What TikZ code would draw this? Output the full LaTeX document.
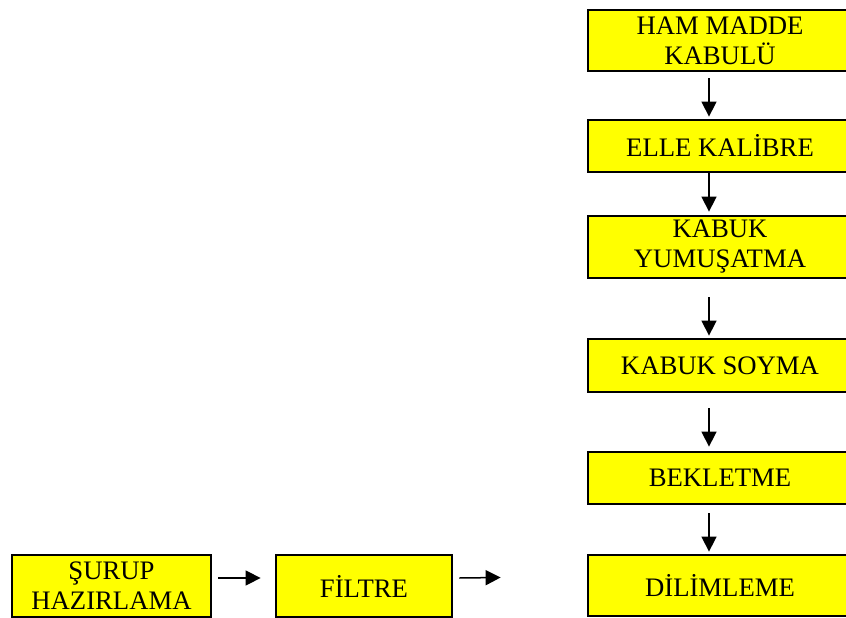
\documentclass[tikz,border=0pt]{standalone}
\usepackage{fontspec}
\setmainfont{Liberation Serif}
\usetikzlibrary{arrows.meta}
\definecolor{procyellow}{RGB}{255,255,0}
\begin{document}
\begin{tikzpicture}[x=1pt,y=-1pt,
	proc/.style={draw=black, line width=2.8pt, fill=procyellow, inner sep=0pt,
		align=center, font=\fontsize{26.7}{30}\selectfont},
	flow/.style={line width=1.5pt, -{Triangle[width=15pt,length=15pt]}}]
	\useasboundingbox (0,0) rectangle (846,618);
	\node (HAM) at (720, 40.5)	[proc, minimum width=264pt, minimum height=61pt]	{HAM MADDE\\KABULÜ};
	\node (ELLE) at (720, 146)	[proc, minimum width=264pt, minimum height=52pt]	{ELLE KALİBRE};
	\node (YUM) at (720, 247)	[proc, minimum width=264pt, minimum height=62pt]	{KABUK\\YUMUŞATMA};
	\node (SOY) at (720, 365.5)	[proc, minimum width=264pt, minimum height=53pt]	{KABUK SOYMA};
	\node (BEK) at (720, 478)	[proc, minimum width=264pt, minimum height=52pt]	{BEKLETME};
	\node (DIL) at (720, 585.5)	[proc, minimum width=264pt, minimum height=61pt]	{DİLİMLEME};
	\node (SUR) at (111.5, 586)	[proc, minimum width=199pt, minimum height=62pt]	{ŞURUP\\HAZIRLAMA};
	\node (FIL) at (364, 586)	[proc, minimum width=176pt, minimum height=62pt]	{FİLTRE};
	\draw[flow] ([xshift=-11pt,yshift=-6pt]HAM.south) -- ([xshift=-11pt,yshift=2pt]ELLE.north);
	\draw[flow] ([xshift=-11pt]ELLE.south) -- ([xshift=-11pt,yshift=3pt]YUM.north);
	\draw[flow] ([xshift=-11pt,yshift=-18pt]YUM.south) -- ([xshift=-11pt,yshift=2pt]SOY.north);
	\draw[flow] ([xshift=-11pt,yshift=-15pt]SOY.south) -- ([xshift=-11pt,yshift=4pt]BEK.north);
	\draw[flow] ([xshift=-11pt,yshift=-8pt]BEK.south) -- ([xshift=-11pt,yshift=2pt]DIL.north);
	\draw[flow] ([xshift=6pt,yshift=8pt]SUR.east) -- ([xshift=-14pt,yshift=8pt]FIL.west);
	\draw[flow] ([xshift=6pt,yshift=8pt]FIL.east) -- ([xshift=-86pt,yshift=8pt]DIL.west);
\end{tikzpicture}
\end{document}
